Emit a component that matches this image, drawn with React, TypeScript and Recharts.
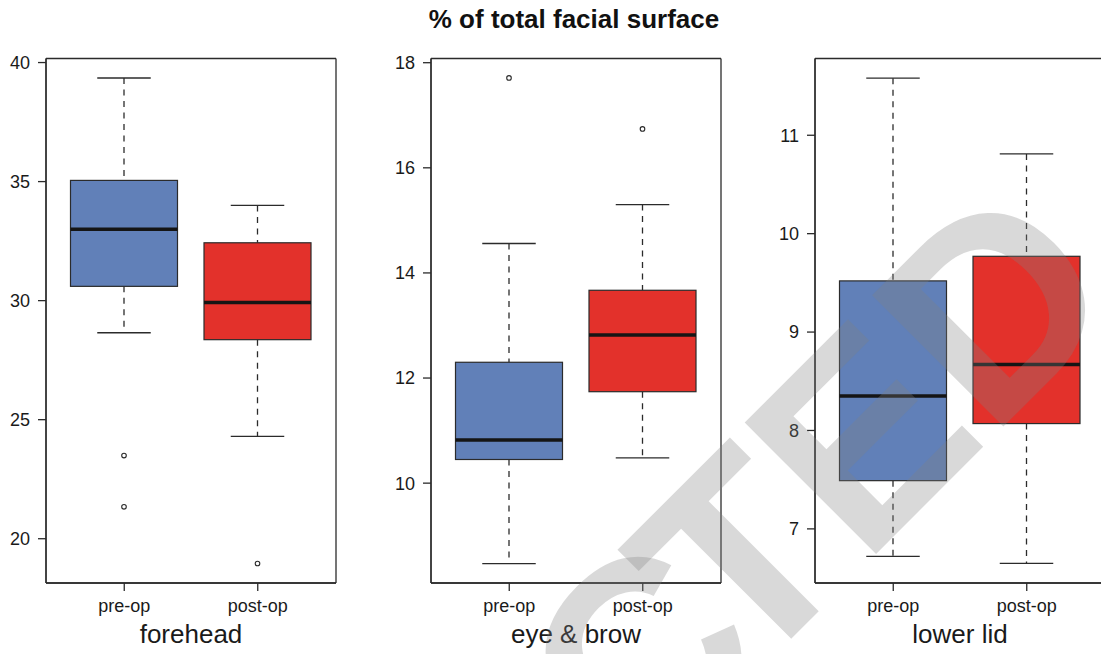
import { ComposedChart, Bar, Cell, XAxis, YAxis, CartesianGrid } from "recharts";

// groups on every panel
const groups = ["pre-op", "post-op"];

// forehead
const foreheadLow = [28.65, 24.3];
const foreheadQ1 = [30.6, 28.36];
const foreheadMedian = [33.0, 29.92];
const foreheadQ3 = [35.05, 32.43];
const foreheadHigh = [39.35, 34.0];
const foreheadOutliers = [[23.49, 21.34], [18.96]];
const foreheadTicks = [20, 25, 30, 35, 40];

// eye & brow
const eyeLow = [8.47, 10.48];
const eyeQ1 = [10.45, 11.74];
const eyeMedian = [10.82, 12.82];
const eyeQ3 = [12.3, 13.67];
const eyeHigh = [14.56, 15.3];
const eyeOutliers = [[17.71], [16.74]];
const eyeTicks = [10, 12, 14, 16, 18];

// lower lid
const lidLow = [6.72, 6.65];
const lidQ1 = [7.49, 8.07];
const lidMedian = [8.35, 8.67];
const lidQ3 = [9.52, 9.77];
const lidHigh = [11.58, 10.81];
const lidOutliers: number[][] = [[], []];
const lidTicks = [7, 8, 9, 10, 11];

const boxColors = ["#6180b8", "#e3312b"];
const ink = "#2b2b2b";
const font = "'Liberation Sans', Arial, Helvetica, sans-serif";

function buildRows(low: number[], q1: number[], median: number[], q3: number[], high: number[], outliers: number[][]) {
  return groups.map((group, i) => ({
    group,
    range: [low[i], high[i]],
    low: low[i],
    q1: q1[i],
    median: median[i],
    q3: q3[i],
    high: high[i],
    outliers: outliers[i],
  }));
}

// whole box drawn from the bar's whisker range (low..high) geometry
function BoxShape(props: any) {
  const { x, y, width, height, payload, fill } = props;
  const { low, high, q1, median, q3, outliers } = payload;
  const toY = (v: number) => y + ((high - v) / (high - low)) * height;
  const cx = x + width / 2;
  const cap = width / 4;
  const dash = "6 5.5";
  return (
    <g>
      <line x1={cx} x2={cx} y1={toY(high)} y2={toY(q3)} stroke={ink} strokeWidth={1.3} strokeDasharray={dash} />
      <line x1={cx} x2={cx} y1={toY(q1)} y2={toY(low)} stroke={ink} strokeWidth={1.3} strokeDasharray={dash} />
      <line x1={cx - cap} x2={cx + cap} y1={toY(high)} y2={toY(high)} stroke={ink} strokeWidth={1.3} />
      <line x1={cx - cap} x2={cx + cap} y1={toY(low)} y2={toY(low)} stroke={ink} strokeWidth={1.3} />
      <rect x={x} y={toY(q3)} width={width} height={toY(q1) - toY(q3)} fill={fill} stroke={ink} strokeWidth={1.2} />
      <line x1={x} x2={x + width} y1={toY(median)} y2={toY(median)} stroke="#151515" strokeWidth={3.6} />
      {outliers.map((v: number, i: number) => (
        <circle key={i} cx={cx} cy={toY(v)} r={2.3} fill="none" stroke={ink} strokeWidth={1.1} />
      ))}
    </g>
  );
}

interface PanelProps {
  name: string;
  rows: ReturnType<typeof buildRows>;
  domain: [number, number];
  ticks: number[];
  left: number;
}

function Panel({ name, rows, domain, ticks, left }: PanelProps) {
  const tickStyle = { fontSize: 18, fill: "#1a1a1a", fontFamily: font };
  return (
    <div style={{ position: "absolute", left, top: 0 }}>
      <ComposedChart width={384} height={654} data={rows} margin={{ top: 58.5, right: 48, bottom: 0, left: 0 }}>
        {/* plot frame: grid lines only at the plot edges */}
        <CartesianGrid
          stroke={ink}
          strokeWidth={1.3}
          fill="none"
          horizontalCoordinatesGenerator={({ offset }: any) => [offset.top, offset.top + offset.height]}
          verticalCoordinatesGenerator={({ offset }: any) => [offset.left, offset.left + offset.width]}
        />
        <XAxis
          dataKey="group"
          type="category"
          padding={{ left: 11.5, right: 11.5 }}
          height={71}
          tickSize={8}
          tickMargin={8.5}
          tick={tickStyle}
          axisLine={{ stroke: ink, strokeWidth: 1.3 }}
          tickLine={{ stroke: ink, strokeWidth: 1.3 }}
          label={{ value: name, position: "insideBottom", offset: 11.5, fontSize: 26, fill: "#1a1a1a", fontFamily: font }}
        />
        <YAxis
          type="number"
          domain={domain}
          ticks={ticks}
          allowDataOverflow
          width={46}
          tickSize={8}
          tickMargin={8}
          tick={tickStyle}
          axisLine={{ stroke: ink, strokeWidth: 1.3 }}
          tickLine={{ stroke: ink, strokeWidth: 1.3 }}
        />
        <Bar dataKey="range" barSize={107} shape={<BoxShape />} isAnimationActive={false}>
          {rows.map((r, i) => (
            <Cell key={r.group} fill={boxColors[i]} />
          ))}
        </Bar>
      </ComposedChart>
    </div>
  );
}

export default function App() {
  const forehead = buildRows(foreheadLow, foreheadQ1, foreheadMedian, foreheadQ3, foreheadHigh, foreheadOutliers);
  const eye = buildRows(eyeLow, eyeQ1, eyeMedian, eyeQ3, eyeHigh, eyeOutliers);
  const lid = buildRows(lidLow, lidQ1, lidMedian, lidQ3, lidHigh, lidOutliers);

  return (
    <div
      style={{
        position: "absolute",
        left: 0,
        top: 0,
        width: 1101,
        height: 654,
        overflow: "hidden",
        background: "#fff",
      }}
    >
      <svg width={1101} height={654} style={{ position: "absolute", left: 0, top: 0 }}>
        <text x={574} y={28} textAnchor="middle" fontSize={26} fontWeight="bold" fontFamily={font} fill="#111">
          % of total facial surface
        </text>
      </svg>
      <Panel name="forehead" rows={forehead} domain={[18.14, 40.17]} ticks={foreheadTicks} left={0} />
      <Panel name="eye & brow" rows={eye} domain={[8.1, 18.08]} ticks={eyeTicks} left={385} />
      <Panel name="lower lid" rows={lid} domain={[6.45, 11.78]} ticks={lidTicks} left={769.3} />
      {/* retraction watermark over everything */}
      <svg width={1101} height={654} style={{ position: "absolute", left: 0, top: 0, pointerEvents: "none" }}>
        <text
          x={1128.5}
          y={301.5}
          transform="rotate(-45 1128.5 301.5)"
          textAnchor="end"
          fontSize={270}
          fontWeight="bold"
          fontFamily={font}
          fill="#808080"
          fillOpacity={0.3}
        >
          <tspan>RETRAC</tspan>
          <tspan dx={-40}>TED</tspan>
        </text>
      </svg>
    </div>
  );
}
